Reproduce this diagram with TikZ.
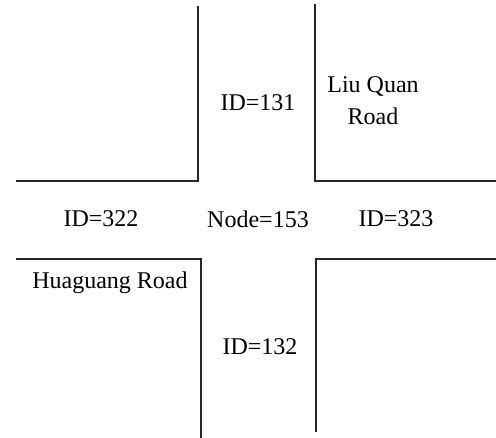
\documentclass[tikz,border=0pt]{standalone}
\usepackage{fontspec}
\setmainfont{Liberation Serif}
\begin{document}
\begin{tikzpicture}[x=1pt,y=-1pt,
  road/.style={line width=1.6pt,draw=black!85},
  lbl/.style={font=\fontsize{24}{32}\selectfont,inner sep=0pt,align=center}]
\useasboundingbox[fill=white] (0,0) rectangle (496,438);
% corner coordinates
\coordinate (a1) at (198,6);
\coordinate (a2) at (198,181);
\coordinate (a3) at (16,181);
\coordinate (b1) at (315,4);
\coordinate (b2) at (315,181);
\coordinate (b3) at (496,181);
\coordinate (c1) at (16,259);
\coordinate (c2) at (201,259);
\coordinate (c3) at (201,438);
\coordinate (d1) at (496,259);
\coordinate (d2) at (316,259);
\coordinate (d3) at (316,432);
\draw[road] (a1) -- (a2) -- (a3);
\draw[road] (b1) -- (b2) -- (b3);
\draw[road] (c1) -- (c2) -- (c3);
\draw[road] (d1) -- (d2) -- (d3);
% labels
\node[lbl] (n131) at (258,103) {ID=131};
\node[lbl] (liu) at (373,101) {Liu Quan\\Road};
\node[lbl] (n322) at (101,219) {ID=322};
\node[lbl] (node) at (258,219) {Node=153};
\node[lbl] (n323) at (396,219) {ID=323};
\node[lbl] (hua) at (110,283) {Huaguang Road};
\node[lbl] (n132) at (260,347) {ID=132};
\end{tikzpicture}
\end{document}
